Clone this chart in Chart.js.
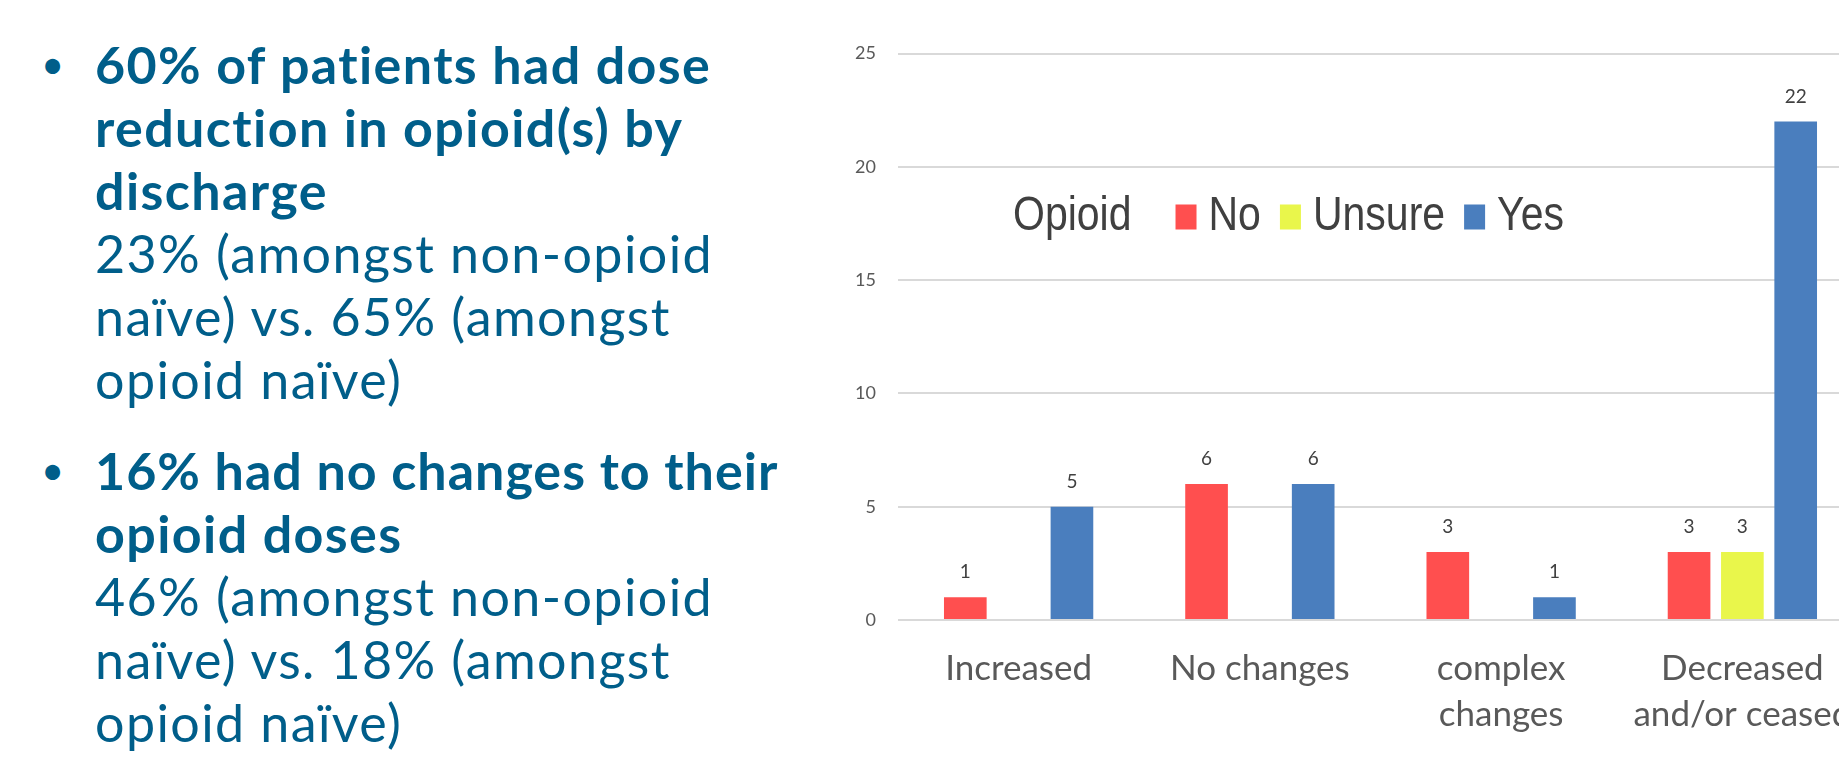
<!DOCTYPE html>
<html>
<head>
<meta charset="utf-8">
<title>Opioid dose changes</title>
<script src="https://cdn.jsdelivr.net/npm/chart.js@4.4.1/dist/chart.umd.min.js"></script>
<style>
  html, body { margin: 0; padding: 0; width: 1839px; height: 758px; overflow: hidden; background: #fff; }
  .notes { position: absolute; left: 0; top: 0; width: 830px; height: 758px; color: #005e8a; font-family: Lato, "Open Sans", sans-serif; }
  .item { position: absolute; left: 95px; width: 740px; font-size: 52px; line-height: 63px; letter-spacing: 1.4px; }
  .item .dot { position: absolute; left: -54px; top: 0; font-size: 40px; font-weight: 400; letter-spacing: 0; }
  .item b { font-weight: 700; display: block; }
  .item b.tight { letter-spacing: 1px; display: inline; }
  .item span.sub { display: block; font-weight: 400; }
  #box { position: absolute; left: 838px; top: 0; width: 1025px; height: 758px; }
</style>
</head>
<body>
<div class="notes">
  <div class="item" style="top:33px">
    <span class="dot">•</span>
    <b>60% of patients had dose<br>reduction in opioid(s) by<br>discharge</b>
    <span class="sub">23% (amongst non-opioid<br>naïve) vs. 65% (amongst<br>opioid naïve)</span>
  </div>
  <div class="item" style="top:439px">
    <span class="dot">•</span>
    <b><b class="tight">16% had no changes to their</b><br>opioid doses</b>
    <span class="sub">46% (amongst non-opioid<br>naïve) vs. 18% (amongst<br>opioid naïve)</span>
  </div>
</div>
<div id="box"><canvas id="barChart"></canvas></div>
<script>
// categories and counts per answer
var categories = ['Increased', 'No changes', ['complex', 'changes'], ['Decreased', 'and/or ceased']];
var noValues = [1, 6, 3, 3];
var unsureValues = [null, null, null, 3];
var yesValues = [5, 6, 1, 22];
var yTicks = [0, 5, 10, 15, 20, 25];
var legendTitle = 'Opioid';

// value printed above each bar
var valueLabels = {
  id: 'valueLabels',
  afterDatasetsDraw: function(chart) {
    var ctx = chart.ctx;
    ctx.save();
    ctx.font = '19px Lato';
    ctx.fillStyle = '#404040';
    ctx.textAlign = 'center';
    ctx.textBaseline = 'middle';
    chart.data.datasets.forEach(function(ds, i) {
      chart.getDatasetMeta(i).data.forEach(function(bar, j) {
        var v = ds.data[j];
        if (v === null || v === undefined) return;
        ctx.fillText(String(v), bar.x, bar.y - 25);
      });
    });
    ctx.restore();
  }
};

// draws text a bit taller than wide, like the legend font
function tallText(ctx, str, x, y) {
  ctx.save();
  ctx.translate(x, y);
  ctx.scale(1, 1.15);
  ctx.fillText(str, 0, 0);
  ctx.restore();
}

// one-row legend with the title in front
var legendRow = {
  id: 'legendRow',
  afterDraw: function(chart) {
    var ctx = chart.ctx;
    var area = chart.chartArea;
    var x = area.left + 115;
    var y = area.top + 163;
    ctx.save();
    ctx.font = '41px "Liberation Sans"';
    ctx.textBaseline = 'middle';
    ctx.fillStyle = '#404040';
    tallText(ctx, legendTitle, x, y);
    x += ctx.measureText(legendTitle).width + 44;
    chart.data.datasets.forEach(function(ds) {
      ctx.fillStyle = ds.backgroundColor;
      ctx.fillRect(x, y - 12, 21, 25);
      x += 33;
      ctx.fillStyle = '#404040';
      tallText(ctx, ds.label, x, y);
      x += ctx.measureText(ds.label).width + 19;
    });
    ctx.restore();
  }
};

var data = {
  labels: categories,
  datasets: [
    { label: 'No', data: noValues, backgroundColor: '#ff4f4f' },
    { label: 'Unsure', data: unsureValues, backgroundColor: '#e9f64b' },
    { label: 'Yes', data: yesValues, backgroundColor: '#4a7ebe' }
  ]
};

var options = {
  responsive: true,
  maintainAspectRatio: false,
  animation: false,
  categoryPercentage: 0.663,
  barPercentage: 0.8,
  layout: { padding: { top: 53.5, left: 0, right: 0, bottom: 0 } },
  plugins: {
    legend: { display: false },
    tooltip: { enabled: false }
  },
  scales: {
    x: {
      grid: { display: false, drawTicks: false },
      border: { display: false },
      ticks: {
        color: '#595959',
        font: { family: 'Lato', size: 35, lineHeight: 1.3 },
        padding: 26,
        maxRotation: 0,
        autoSkip: false
      },
      afterFit: function(axis) {
        axis.height = 138;
        // the last label may run off the edge; keep the plot width fixed
        axis.paddingLeft = 0;
        axis.paddingRight = 0;
      }
    },
    y: {
      min: 0,
      max: 25,
      afterBuildTicks: function(axis) {
        axis.ticks = yTicks.map(function(v) { return { value: v }; });
      },
      grid: { color: '#d9d9d9', lineWidth: 2, drawTicks: false },
      border: { display: false },
      ticks: {
        color: '#595959',
        font: { family: 'Lato', size: 18 },
        padding: 22
      },
      afterFit: function(axis) { axis.width = 60; }
    }
  }
};

var ctx = document.getElementById('barChart').getContext('2d');
var myBarChart = new Chart(ctx, {
  type: 'bar',
  data: data,
  options: options,
  plugins: [valueLabels, legendRow]
});
</script>
</body>
</html>
